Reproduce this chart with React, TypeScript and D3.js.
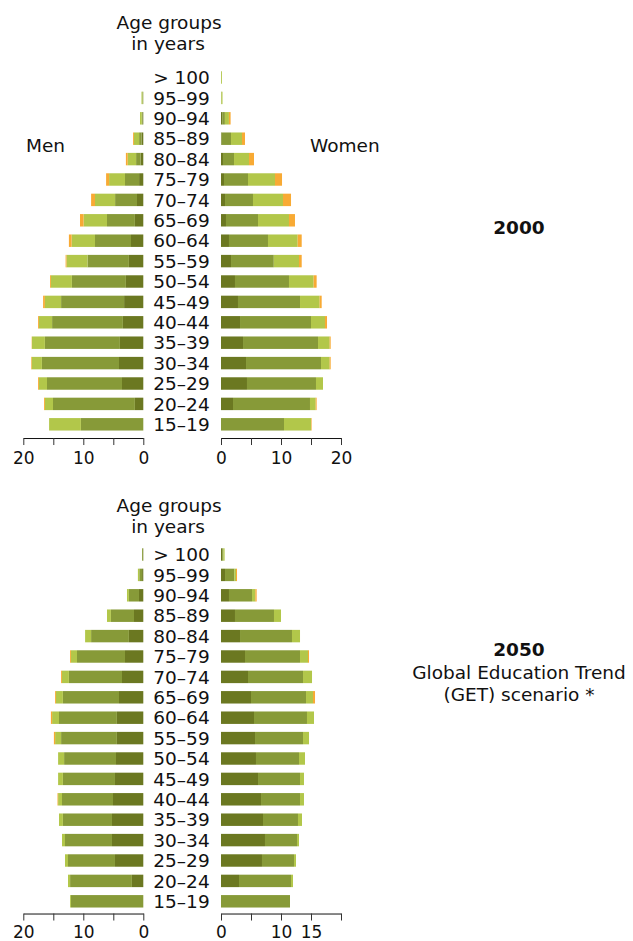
import React, { useEffect, useRef } from 'react';
import * as d3 from 'd3';

// age groups, top of the pyramid first
const ageGroups = [
  '> 100', '95–99', '90–94', '85–89', '80–84', '75–79', '70–74', '65–69', '60–64',
  '55–59', '50–54', '45–49', '40–44', '35–39', '30–34', '25–29', '20–24', '15–19'
];

// education levels, from the centre line outwards
const levels = ['lowest', 'low', 'middle', 'high'];
const levelColors = ['#6b7821', '#879a38', '#b2c74a', '#f8aa34'];

// population shares (%) per age group, one [lowest, low, middle, high] tuple per row
const men2000 = [
  [0, 0, 0, 0], [0, 0.15, 0.15, 0], [0.15, 0.1, 0.3, 0], [0.3, 0.4, 0.85, 0.15],
  [0.45, 0.75, 1.4, 0.3], [0.7, 2.35, 2.65, 0.5], [1.05, 3.65, 3.35, 0.65], [1.4, 4.65, 3.9, 0.6],
  [2.05, 6.0, 3.9, 0.45], [2.4, 6.9, 3.5, 0.15], [2.9, 9.0, 3.5, 0.15], [3.2, 10.5, 2.7, 0.3],
  [3.4, 11.8, 2.2, 0.15], [3.9, 12.5, 2.15, 0.05], [4.05, 12.85, 1.7, 0.1], [3.55, 12.5, 1.35, 0.15],
  [1.4, 13.65, 1.35, 0.15], [0, 10.4, 5.3, 0]
];
const women2000 = [
  [0, 0, 0.15, 0], [0, 0.05, 0.2, 0], [0.2, 0.45, 0.67, 0.28], [0.1, 1.57, 1.83, 0.5],
  [0.33, 1.84, 2.5, 0.83], [0.5, 4.0, 4.5, 1.17], [0.67, 4.66, 5.0, 1.34], [0.83, 5.34, 5.16, 1.0],
  [1.33, 6.5, 4.95, 0.67], [1.67, 7.13, 4.2, 0.45], [2.33, 9.0, 4.11, 0.5], [2.83, 10.34, 3.27, 0.34],
  [3.17, 11.83, 2.33, 0.34], [3.67, 12.5, 1.94, 0.17], [4.17, 12.5, 1.44, 0.17], [4.33, 11.5, 1.17, 0],
  [2.0, 12.83, 0.95, 0.16], [0, 10.5, 4.5, 0.1]
];
const men2050 = [
  [0.05, 0.15, 0, 0], [0.2, 0.47, 0.23, 0], [0.72, 1.68, 0.32, 0], [1.55, 3.85, 0.65, 0],
  [2.4, 6.3, 1.0, 0], [3.05, 8.0, 1.0, 0.15], [3.55, 8.85, 1.15, 0.15], [4.05, 9.35, 1.15, 0.15],
  [4.4, 9.65, 1.15, 0.2], [4.4, 9.3, 1.0, 0.2], [4.55, 8.65, 1.0, 0], [4.72, 8.68, 0.8, 0],
  [5.05, 8.5, 0.65, 0.1], [5.22, 8.18, 0.65, 0], [5.22, 7.83, 0.5, 0], [4.72, 7.83, 0.5, 0],
  [1.9, 10.3, 0.35, 0], [0, 12.05, 0.15, 0]
];
const women2050 = [
  [0.2, 0.2, 0.2, 0], [0.67, 1.55, 0.28, 0.17], [1.33, 3.84, 0.55, 0.22], [2.33, 6.5, 1.17, 0],
  [3.17, 8.66, 1.34, 0], [4.0, 9.17, 1.33, 0.17], [4.5, 9.17, 1.5, 0], [5.0, 9.17, 1.16, 0.34],
  [5.5, 8.83, 1.17, 0], [5.67, 8.0, 1.0, 0], [5.83, 7.17, 1.0, 0], [6.17, 7.0, 0.66, 0],
  [6.67, 6.5, 0.66, 0], [7.0, 5.83, 0.67, 0], [7.33, 5.34, 0.33, 0], [6.83, 5.34, 0.33, 0],
  [3.0, 8.67, 0.33, 0], [0, 11.5, 0, 0]
];

const axisTicks = [0, 5, 10, 15, 20];
const tickLabels2000 = [0, 10, 20];
const tickLabels2050Men = [0, 10, 20];
const tickLabels2050Women = [0, 10, 15];

const FONT = '"DejaVu Sans", Verdana, sans-serif';

interface PanelConfig {
  men: number[][];
  women: number[][];
  rowTop: number;      // top of the band range
  titleY: number;      // baseline of "Age groups"
  axisGap: number;
  tickPad: number;
  menLabels: number[];
  womenLabels: number[];
  showSexLabels: boolean;
  yearLines: string[];
  yearY: number;
}

const App: React.FC = () => {
  const svgRef = useRef<SVGSVGElement>(null);

  useEffect(() => {
    if (!svgRef.current) return;
    const svg = d3.select(svgRef.current);
    svg.selectAll('*').remove();

    const step = 20.4;
    const xMen = d3.scaleLinear().domain([0, 20]).range([143.3, 23.3]);
    const xWomen = d3.scaleLinear().domain([0, 20]).range([221, 341]);

    const stack = d3.stack<number[]>()
      .keys(levels.map((_, i) => String(i)))
      .value((d, key) => d[+key]);

    const drawPanel = (cfg: PanelConfig) => {
      const g = svg.append('g');

      const y = d3.scaleBand()
        .domain(ageGroups)
        .range([cfg.rowTop, cfg.rowTop + step * ageGroups.length])
        .paddingInner(0.39)
        .paddingOuter(0.195);

      // title above the age labels
      const title = g.append('text')
        .attr('text-anchor', 'middle')
        .style('font-family', FONT)
        .style('font-size', '18.5px')
        .style('fill', '#111');
      title.append('tspan').attr('x', 169).attr('y', cfg.titleY).text('Age groups');
      title.append('tspan').attr('x', 168).attr('y', cfg.titleY + 21.5).text('in years');

      // age labels
      g.selectAll('.age')
        .data(ageGroups)
        .enter().append('text')
        .attr('class', 'age')
        .attr('x', 181.5)
        .attr('y', d => y(d)! + y.bandwidth() / 2 + 6.6)
        .attr('text-anchor', 'middle')
        .style('font-family', FONT)
        .style('font-size', '18.5px')
        .style('fill', '#111')
        .text(d => d);

      const drawSide = (rows: number[][], x: d3.ScaleLinear<number, number>, left: boolean) => {
        const series = stack(rows);
        series.forEach((s, li) => {
          g.selectAll(null)
            .data(s)
            .enter().append('rect')
            .attr('x', d => (left ? x(d[1]) : x(d[0])))
            .attr('width', d => Math.abs(x(d[1]) - x(d[0])))
            .attr('y', (_, i) => y(ageGroups[i])!)
            .attr('height', y.bandwidth())
            .attr('fill', levelColors[li]);
        });
      };
      drawSide(cfg.men, xMen, true);
      drawSide(cfg.women, xWomen, false);

      const axisY = y(ageGroups[ageGroups.length - 1])! + y.bandwidth() + cfg.axisGap;

      const styleAxis = (a: d3.Selection<SVGGElement, unknown, null, undefined>) => {
        a.select('.domain').attr('stroke', '#111').attr('stroke-width', 1);
        a.selectAll('.tick line').attr('stroke', '#333');
        a.selectAll('.tick text')
          .style('font-family', FONT)
          .style('font-size', '17px')
          .style('fill', '#111');
      };

      const menAxis = g.append('g')
        .attr('transform', `translate(0,${axisY})`)
        .call(d3.axisBottom(xMen)
          .tickValues(axisTicks)
          .tickSize(7)
          .tickSizeOuter(0)
          .tickPadding(cfg.tickPad)
          .tickFormat(d => (cfg.menLabels.includes(+d) ? String(d) : '')));
      styleAxis(menAxis);

      const womenAxis = g.append('g')
        .attr('transform', `translate(0,${axisY})`)
        .call(d3.axisBottom(xWomen)
          .tickValues(axisTicks)
          .tickSize(7)
          .tickSizeOuter(0)
          .tickPadding(cfg.tickPad)
          .tickFormat(d => (cfg.womenLabels.includes(+d) ? String(d) : '')));
      styleAxis(womenAxis);

      if (cfg.showSexLabels) {
        g.append('text').attr('x', 26).attr('y', 152)
          .style('font-family', FONT).style('font-size', '18.5px').style('fill', '#111')
          .text('Men');
        g.append('text').attr('x', 310).attr('y', 152)
          .style('font-family', FONT).style('font-size', '18.5px').style('fill', '#111')
          .text('Women');
      }

      // year / scenario caption
      const caption = g.append('text')
        .attr('text-anchor', 'middle')
        .style('font-family', FONT)
        .style('font-size', '18.5px')
        .style('fill', '#111');
      cfg.yearLines.forEach((line, i) => {
        caption.append('tspan')
          .attr('x', 519)
          .attr('y', cfg.yearY + i * 22.5)
          .style('font-weight', i === 0 ? 'bold' : 'normal')
          .text(line);
      });
    };

    drawPanel({
      men: men2000,
      women: women2000,
      rowTop: 77.5 - step / 2,
      titleY: 28.5,
      axisGap: 7.5,
      tickPad: 7,
      menLabels: tickLabels2000,
      womenLabels: tickLabels2000,
      showSexLabels: true,
      yearLines: ['2000'],
      yearY: 234
    });

    drawPanel({
      men: men2050,
      women: women2050,
      rowTop: 554.5 - step / 2,
      titleY: 511.5,
      axisGap: 6,
      tickPad: 5.5,
      menLabels: tickLabels2050Men,
      womenLabels: tickLabels2050Women,
      showSexLabels: false,
      yearLines: ['2050', 'Global Education Trend', '(GET) scenario *'],
      yearY: 656
    });
  }, []);

  return (
    <svg
      ref={svgRef}
      width={633}
      height={941}
      style={{ position: 'absolute', left: 0, top: 0, background: '#fff' }}
    />
  );
};

export default App;
